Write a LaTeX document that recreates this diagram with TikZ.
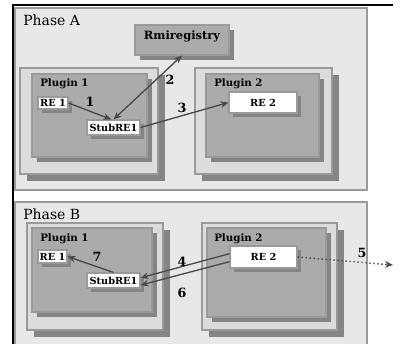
\documentclass[tikz,border=0pt]{standalone}
\usepackage{fontspec}
\setmainfont{DejaVu Serif}
\usetikzlibrary{fit,shadows,arrows.meta}
\definecolor{panelfill}{HTML}{E8E8E8}
\definecolor{framefill}{HTML}{DCDCDC}
\definecolor{plugfill}{HTML}{ABABAB}
\definecolor{shadowgray}{HTML}{858585}
\definecolor{edgegray}{HTML}{9A9A9A}
\definecolor{arrowgray}{HTML}{4A4A4A}
\tikzset{
  panel/.style={fill=panelfill, draw=edgegray, line width=0.8pt, inner sep=0pt},
  frame/.style={fill=framefill, draw=edgegray, line width=0.8pt, inner sep=0pt,
    general shadow={fill=shadowgray, shadow xshift=5pt, shadow yshift=-5pt}},
  plug/.style={fill=plugfill, draw=edgegray, line width=0.8pt, inner sep=0pt,
    general shadow={fill=shadowgray, shadow xshift=3.5pt, shadow yshift=-3.5pt}},
  rebox/.style={fill=white, draw=edgegray, line width=0.8pt, inner sep=0pt,
    general shadow={fill=shadowgray, shadow xshift=3pt, shadow yshift=-3pt}},
  retxt/.style={inner sep=0pt, font=\fontsize{7.3}{8}\selectfont\bfseries},
  phasetxt/.style={anchor=west, inner sep=0pt, font=\fontsize{10.5}{12}\selectfont},
  plugtxt/.style={anchor=west, inner sep=0pt, font=\fontsize{7.7}{8}\selectfont\bfseries},
  numtxt/.style={inner sep=0pt, font=\fontsize{9.5}{11}\selectfont\bfseries},
  link/.style={draw=arrowgray, line width=1pt, -{Stealth[length=6pt,width=5pt]}},
}
\begin{document}
\begin{tikzpicture}[x=0.75pt, y=-0.75pt]
  \useasboundingbox (0,0) rectangle (400,343);
  \fill[white] (0,0) rectangle (400,343);

  % two phase panels
  \node[panel, fit={(15,8)(367,190)}] (pa) {};
  \node[panel, fit={(15,202)(367,346)}] (pb) {};
  \draw[black, line width=1.5pt] (13,344) |- (393,5);

  % ---------- Phase A ----------
  \node[phasetxt] (pat) at (23,20) {Phase A};
  \node[plug, fit={(135,25)(229,55)}] (rmi) {};
  \node[inner sep=0pt, font=\fontsize{8.6}{10}\selectfont\bfseries] (rmit) at (182,36) {Rmiregistry};

  \node[frame, fit={(20,68)(158,174)}] (p1af) {};
  \node[plug, fit={(32,74)(147,157)}] (p1a) {};
  \node[plugtxt] (p1at) at (40,84) {Plugin 1};
  \node[rebox, fit={(38,97)(68,109)}] (re1a) {};
  \node[retxt] (re1at) at (re1a.center) {RE 1};
  \node[rebox, fit={(87,120)(140,135)}] (stuba) {};
  \node[retxt] (stubat) at (stuba.center) {StubRE1};

  \node[frame, fit={(195,68)(332,174)}] (p2af) {};
  \node[plug, fit={(206,74)(319,157)}] (p2a) {};
  \node[plugtxt] (p2at) at (214,84) {Plugin 2};
  \node[rebox, fit={(229,92)(297,113)}] (re2a) {};
  \node[retxt] (re2at) at (re2a.center) {RE 2};

  \draw[link] (re1a.east) -- (stuba.105);
  \draw[link, {Stealth[length=6pt,width=5pt]}-{Stealth[length=6pt,width=5pt]}] (stuba.north) -- (rmi.south);
  \draw[link] (stuba.east) -- (re2a.west);
  \node[numtxt] (n1) at (90,102) {1};
  \node[numtxt] (n2) at (170,80) {2};
  \node[numtxt] (n3) at (182,108) {3};

  % ---------- Phase B ----------
  \node[phasetxt] (pbt) at (23,214) {Phase B};

  \node[frame, fit={(27,223)(163,330)}] (p1bf) {};
  \node[plug, fit={(32,228)(152,312)}] (p1b) {};
  \node[plugtxt] (p1bt) at (40,239) {Plugin 1};
  \node[rebox, fit={(38,250)(67,263)}] (re1b) {};
  \node[retxt] (re1bt) at (re1b.center) {RE 1};
  \node[rebox, fit={(87,273)(140,288)}] (stubb) {};
  \node[retxt] (stubbt) at (stubb.center) {StubRE1};

  \node[frame, fit={(202,223)(337,330)}] (p2bf) {};
  \node[plug, fit={(207,228)(326,317)}] (p2b) {};
  \node[plugtxt] (p2bt) at (214,239) {Plugin 2};
  \node[rebox, fit={(230,246)(297,268)}] (re2b) {};
  \node[retxt] (re2bt) at (re2b.center) {RE 2};

  \coordinate (out5) at (393,265);
  \draw[link] (stubb.north) -- (re1b.east);
  \draw[link] ([yshift=2.5pt]re2b.west) -- ([yshift=2pt]stubb.east);
  \draw[link] ([yshift=-3.5pt]re2b.west) -- ([yshift=-3.5pt]stubb.east);
  \draw[link, dotted, line width=1.1pt] (re2b.east) -- (out5);
  \node[numtxt] (n4) at (182,262) {4};
  \node[numtxt] (n5) at (362,253) {5};
  \node[numtxt] (n6) at (182,293) {6};
  \node[numtxt] (n7) at (97,257) {7};
\end{tikzpicture}
\end{document}
